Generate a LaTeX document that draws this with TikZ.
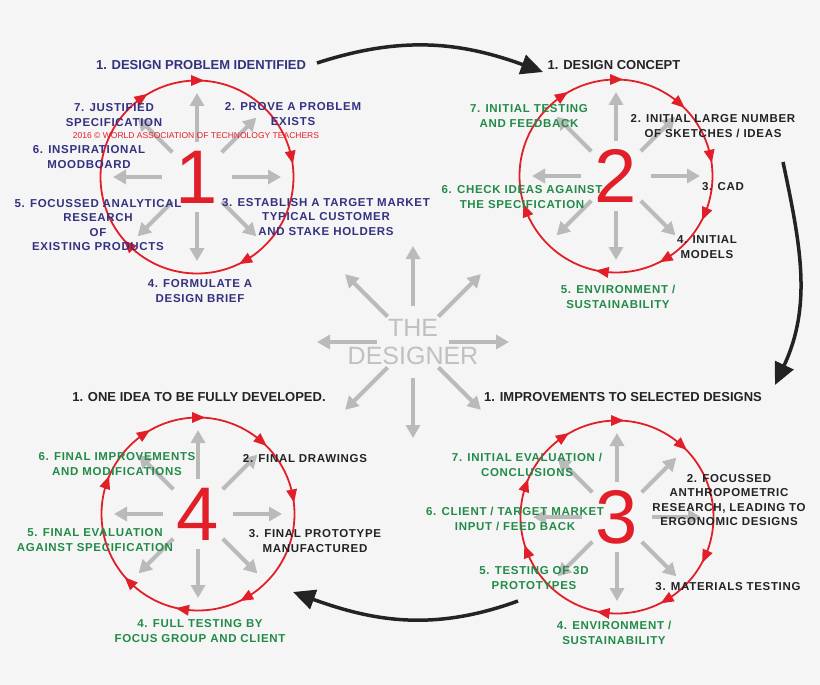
\documentclass[tikz,border=0pt]{standalone}
\usepackage{fontspec}
\setmainfont{Liberation Sans}
\newfontfamily\lblfont[LetterSpace=6]{Liberation Sans}
\usetikzlibrary{arrows.meta}
\definecolor{bgc}{RGB}{245,245,245}
\definecolor{redc}{RGB}{226,30,40}
\definecolor{navyc}{RGB}{52,50,128}
\definecolor{greenc}{RGB}{34,139,72}
\definecolor{darkc}{RGB}{35,35,35}
\definecolor{grayc}{RGB}{186,186,186}
\definecolor{desc}{RGB}{192,192,192}
\definecolor{blackc}{RGB}{35,35,35}

\begin{document}
\begin{tikzpicture}[x=1pt,y=1pt,
	lbl/.style={align=center,inner sep=0pt,font=\lblfont\bfseries\fontsize{11.5}{14.5}\selectfont},
	head/.style={inner sep=0pt,text=darkc,font=\bfseries\fontsize{13}{15}\selectfont},
	num/.style={inner sep=0pt,text=redc,font=\fontsize{76}{76}\selectfont},
	grayarr/.style={draw=grayc,line width=4pt,-{Triangle[length=13pt,width=14pt]}},
	bigarr/.style={draw=blackc,line width=3.5pt,-{Triangle[length=22pt,width=20pt]}}]
		\fill[bgc] (0,-685) rectangle (820,0);
		\useasboundingbox (0,-685) rectangle (820,0);
		\coordinate (c1) at (197,-177);
		\coordinate (c2) at (616,-176);
		\coordinate (c3) at (617,-517);
		\coordinate (c4) at (198,-514);
		\coordinate (d) at (413,-342);
		\foreach \c/\l in {c1/{90,125,12,-60,-135},c2/{90,49,12,-23,-59,-98,-159,124},
			c3/{90,48,-24,-59,-98,-159,161,124},c4/{90,49,11,-60,-99,-135,161,124}}{
			\foreach \a in {0,45,...,315} \draw[grayarr,shift={(\c)}] (\a:35) -- (\a:84);
			\draw[redc,line width=1.8pt] (\c) circle (96.5);
			\foreach \a in \l \fill[redc,shift={(\c)},rotate=\a] (96.5,-7) -- (91,6) -- (102,6) -- cycle;
		}
		\node[num] (n1) at (c1) {1};
		\node[num] (n2) at (c2) {2};
		\node[num] (n3) at (c3) {3};
		\node[num] (n4) at (c4) {4};
		\foreach \a in {0,45,...,315} \draw[grayarr,shift={(d)}] (\a:36) -- (\a:96);
		\node[align=center,text=desc,font=\fontsize{25}{28}\selectfont] (des) at (d) {THE\\DESIGNER};

		\node[head,text=navyc] (h1) at (201,-65) {1. DESIGN PROBLEM IDENTIFIED};
		\node[lbl,text=navyc] (p7) at (114,-115) {7. JUSTIFIED\\SPECIFICATION};
		\node[lbl,text=navyc] (p2) at (293,-114) {2. PROVE A PROBLEM\\EXISTS};
		\node[inner sep=0pt,text=redc,font=\fontsize{8.5}{9}\selectfont] (wm) at (196,-136) {2016 \textcopyright\ WORLD ASSOCIATION OF TECHNOLOGY TEACHERS};
		\node[lbl,text=navyc] (p6) at (89,-157) {6. INSPIRATIONAL\\MOODBOARD};
		\node[lbl,text=navyc] (p5) at (98,-225) {5. FOCUSSED ANALYTICAL\\RESEARCH\\OF\\EXISTING PRODUCTS};
		\node[lbl,text=navyc] (p3) at (326,-217) {3. ESTABLISH A TARGET MARKET\\TYPICAL CUSTOMER\\AND STAKE HOLDERS};
		\node[lbl,text=navyc] (p4) at (200,-291) {4. FORMULATE A\\DESIGN BRIEF};

		\node[head] (h2) at (614,-65) {1. DESIGN CONCEPT};
		\node[lbl,text=greenc] (q7) at (529,-116) {7. INITIAL TESTING\\AND FEEDBACK};
		\node[lbl,text=darkc] (q2) at (713,-126) {2. INITIAL LARGE NUMBER\\OF SKETCHES / IDEAS};
		\node[lbl,text=darkc] (q3) at (723,-187) {3. CAD};
		\node[lbl,text=greenc] (q6) at (522,-197) {6. CHECK IDEAS AGAINST\\THE SPECIFICATION};
		\node[lbl,text=darkc] (q4) at (707,-247) {4. INITIAL\\MODELS};
		\node[lbl,text=greenc] (q5) at (618,-297) {5. ENVIRONMENT /\\SUSTAINABILITY};

		\node[head] (h3) at (623,-397) {1. IMPROVEMENTS TO SELECTED DESIGNS};
		\node[lbl,text=greenc] (r7) at (527,-465) {7. INITIAL EVALUATION /\\CONCLUSIONS};
		\node[lbl,text=darkc] (r2) at (729,-500) {2. FOCUSSED\\ANTHROPOMETRIC\\RESEARCH, LEADING TO\\ERGONOMIC DESIGNS};
		\node[lbl,text=greenc] (r6) at (515,-519) {6. CLIENT / TARGET MARKET\\INPUT / FEED BACK};
		\node[lbl,text=greenc] (r5) at (534,-578) {5. TESTING OF 3D\\PROTOTYPES};
		\node[lbl,text=darkc] (r3) at (728,-587) {3. MATERIALS TESTING};
		\node[lbl,text=greenc] (r4) at (614,-633) {4. ENVIRONMENT /\\SUSTAINABILITY};

		\node[head] (h4) at (199,-397) {1. ONE IDEA TO BE FULLY DEVELOPED.};
		\node[lbl,text=greenc] (s6) at (117,-464) {6. FINAL IMPROVEMENTS\\AND MODIFICATIONS};
		\node[lbl,text=darkc] (s2) at (305,-459) {2. FINAL DRAWINGS};
		\node[lbl,text=greenc] (s5) at (95,-540) {5. FINAL EVALUATION\\AGAINST SPECIFICATION};
		\node[lbl,text=darkc] (s3) at (315,-541) {3. FINAL PROTOTYPE\\MANUFACTURED};
		\node[lbl,text=greenc] (s4) at (200,-631) {4. FULL TESTING BY\\FOCUS GROUP AND CLIENT};

		\coordinate (a1) at (317,-63);
		\coordinate (b1) at (543,-72);
		\coordinate (a2) at (783,-162);
		\coordinate (b2) at (775,-385);
		\coordinate (a3) at (518,-601);
		\coordinate (b3) at (293,-592);
		\draw[bigarr] (a1) to[out=18,in=160] (b1);
		\draw[bigarr] (a2) to[out=-78,in=65] (b2);
		\draw[bigarr] (a3) to[out=200,in=-20] (b3);
\end{tikzpicture}
\end{document}
